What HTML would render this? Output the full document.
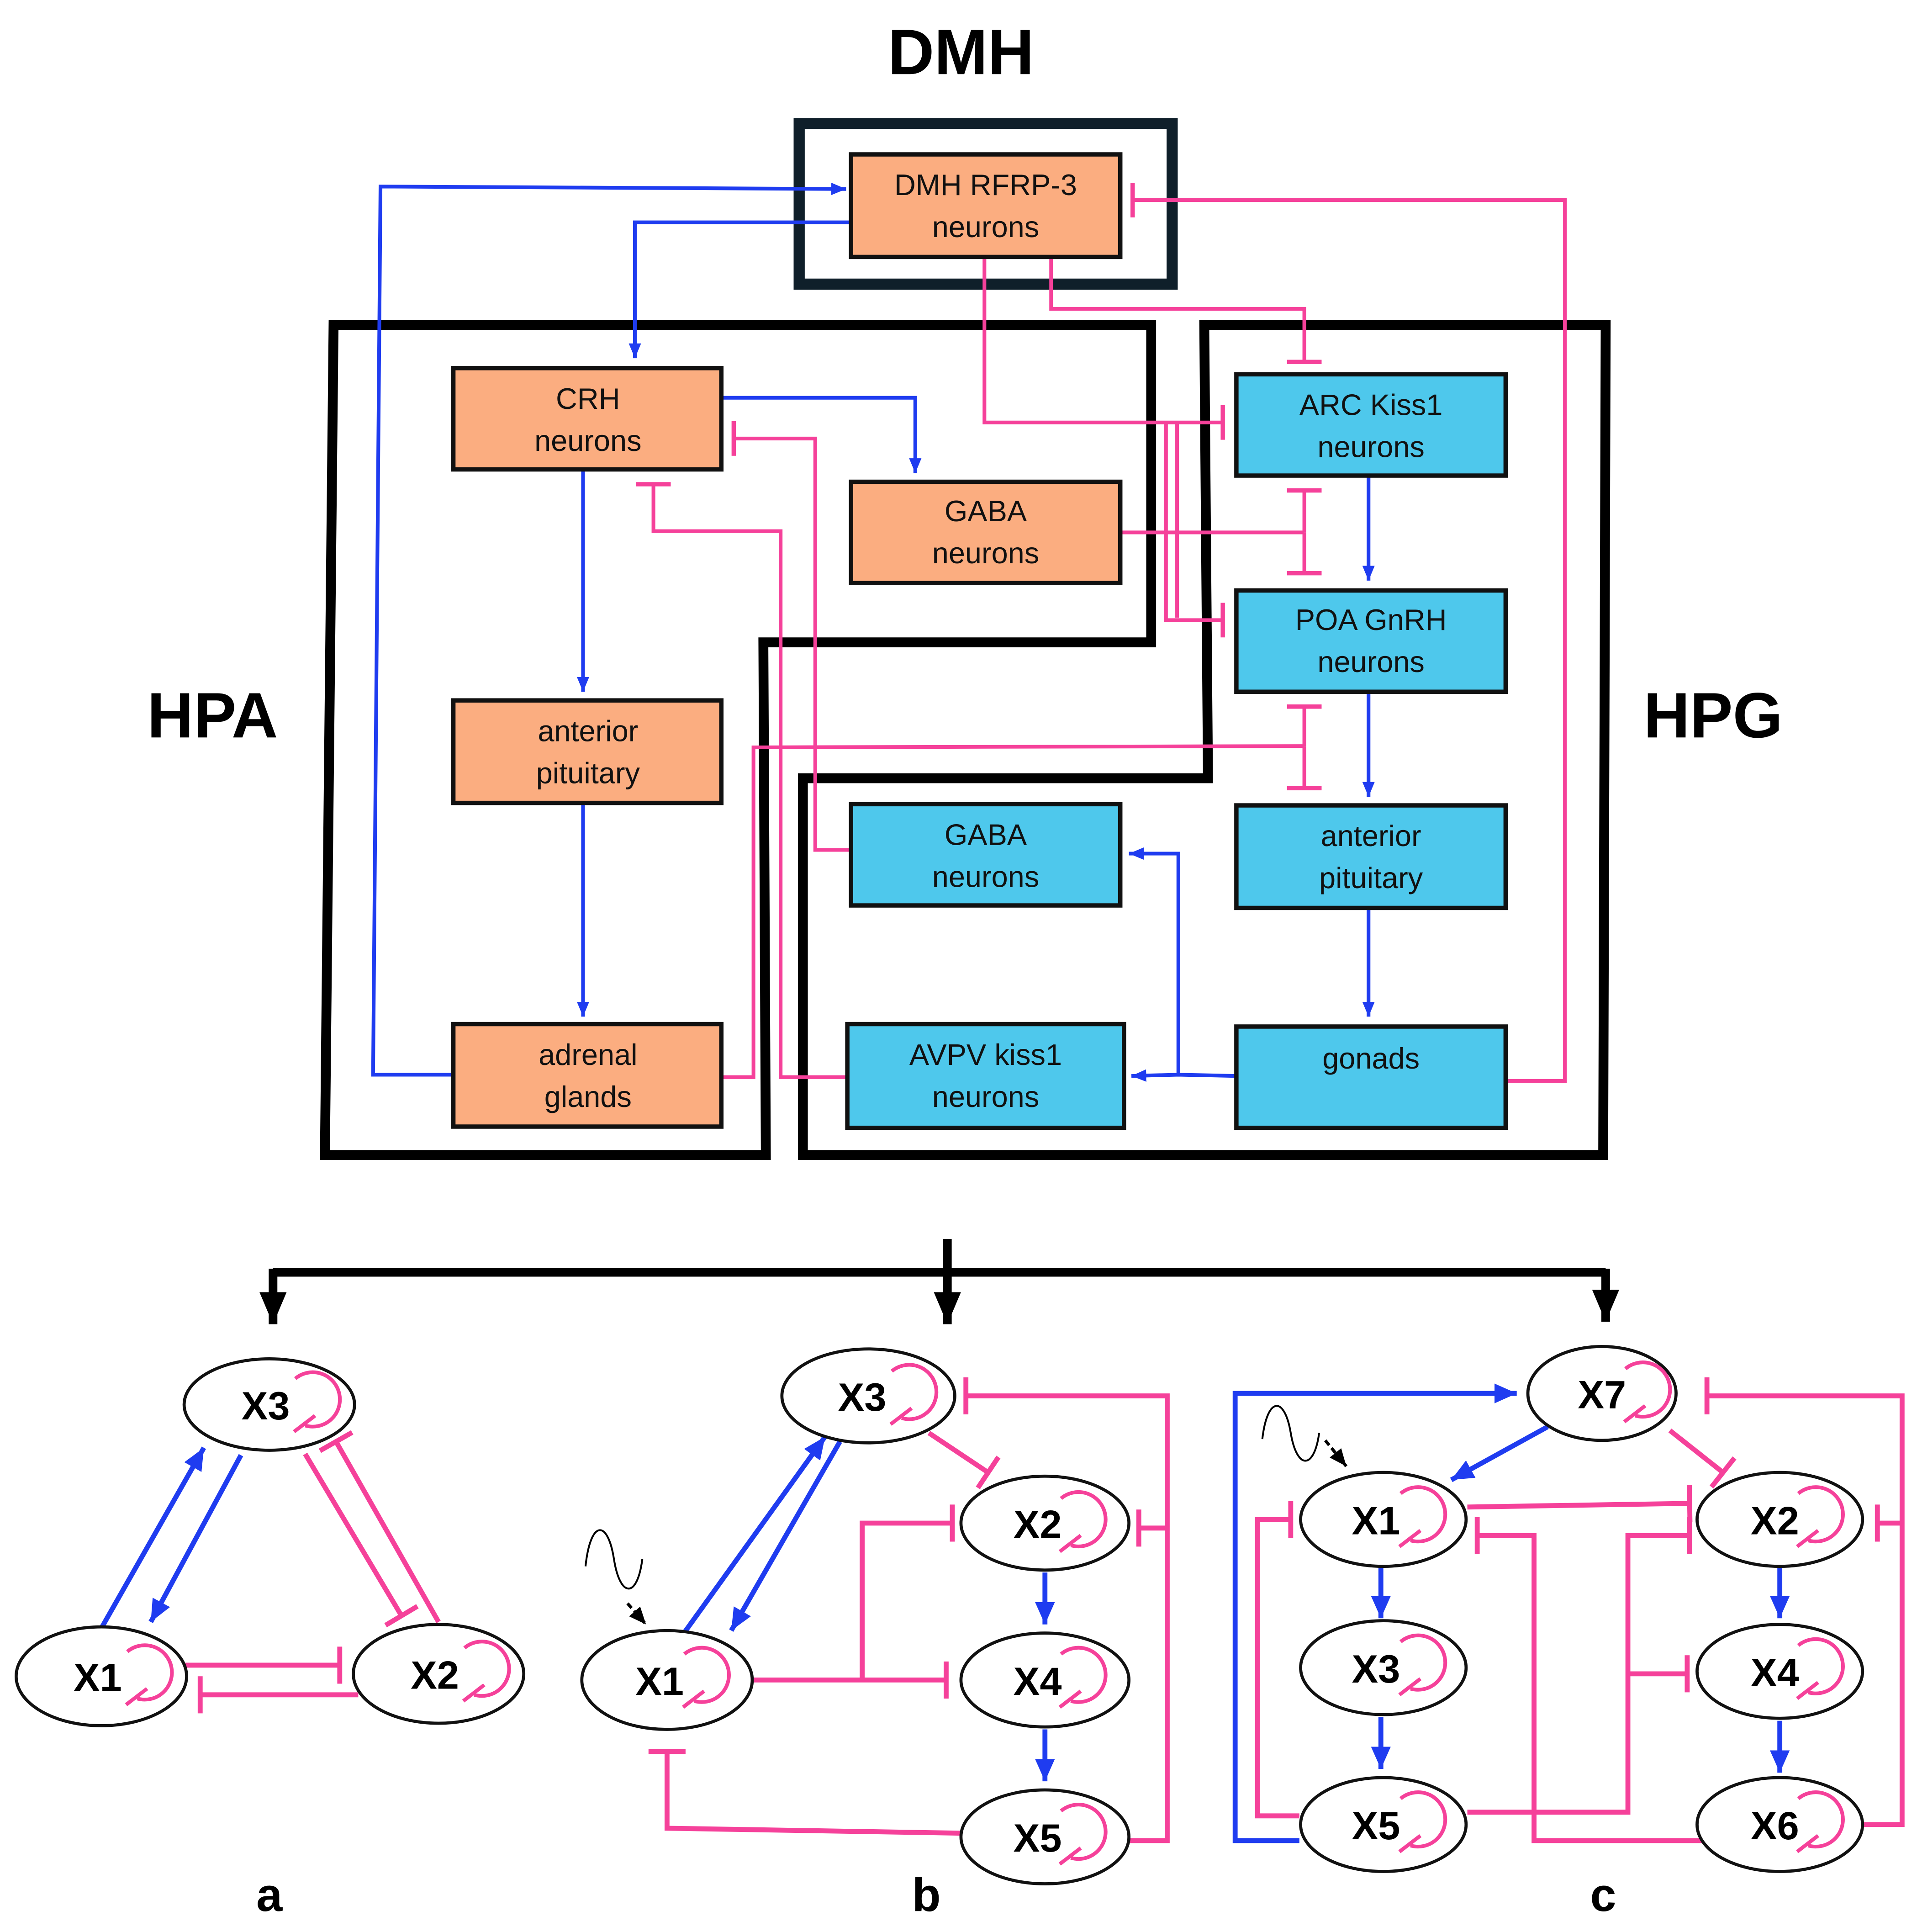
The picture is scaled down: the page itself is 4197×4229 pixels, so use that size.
<!DOCTYPE html>
<html><head><meta charset="utf-8"><style>
html,body{margin:0;padding:0;background:#fff;}
svg{display:block;}
text{font-family:"Liberation Sans",sans-serif;}
</style></head><body>
<svg width="4197" height="4229" viewBox="0 0 1552 1564" xmlns="http://www.w3.org/2000/svg">
<defs>
<marker id="ab" markerUnits="userSpaceOnUse" markerWidth="12" markerHeight="12" viewBox="0 -6 12 12" refX="12" refY="0" orient="auto"><path d="M0 -5 L12 0 L0 5 z" fill="#1f3cf0"/></marker>
<marker id="abb" markerUnits="userSpaceOnUse" markerWidth="18" markerHeight="18" viewBox="0 -9 18 18" refX="18" refY="0" orient="auto"><path d="M0 -8 L18 0 L0 8 z" fill="#1f3cf0"/></marker>
<marker id="ak" markerUnits="userSpaceOnUse" markerWidth="26" markerHeight="26" viewBox="0 -13 26 26" refX="26" refY="0" orient="auto"><path d="M0 -11 L26 0 L0 11 z" fill="#000"/></marker>
<marker id="ak2" markerUnits="userSpaceOnUse" markerWidth="14" markerHeight="14" viewBox="0 -7 14 14" refX="14" refY="0" orient="auto"><path d="M0 -6 L14 0 L0 6 z" fill="#000"/></marker>
<marker id="t" markerUnits="userSpaceOnUse" markerWidth="10" markerHeight="34" viewBox="-5 -17 10 34" refX="0" refY="0" orient="auto"><path d="M0 -14 V14" stroke="#f5419a" stroke-width="3.5"/></marker>
<marker id="tb" markerUnits="userSpaceOnUse" markerWidth="10" markerHeight="36" viewBox="-5 -18 10 36" refX="0" refY="0" orient="auto"><path d="M0 -15 V15" stroke="#f5419a" stroke-width="4"/></marker>
<g id="loop" fill="none" stroke="#f5419a" stroke-width="3"><path d="M-18 -21 A22 22 0 1 1 -10 17"/><path d="M-19 22 L-2 9"/></g>
</defs>

<g font-weight="bold" font-size="52" text-anchor="middle">
<text x="778" y="60">DMH</text>
<text x="172" y="597">HPA</text>
<text x="1387" y="597">HPG</text>
</g>

<rect x="647" y="100" width="302" height="130" fill="none" stroke="#0f1f2a" stroke-width="9"/>
<path d="M270 263 L932 263 L932 520 L618 520 L620 935 L263 935 Z" fill="none" stroke="#000" stroke-width="8"/>
<path d="M975 263 L1300 263 L1298 935 L650 935 L650 630 L978 630 Z" fill="none" stroke="#000" stroke-width="8"/>

<g fill="none" stroke="#1f3cf0" stroke-width="3" marker-end="url(#ab)">
<path d="M367 870 L302 870 L308 151 L685 153"/>
<path d="M689 180 L514 180 L514 290"/>
<path d="M584 322 L741 322 L741 383"/>
<path d="M472 380 L472 560"/>
<path d="M472 650 L472 823"/>
<path d="M1108 385 L1108 470"/>
<path d="M1108 560 L1108 645"/>
<path d="M1108 735 L1108 823"/>
<path d="M1001 871 L954 870 L916 871"/>
<path d="M954 870 L954 691 L914 691"/>
</g>
<g fill="none" stroke="#f5419a" stroke-width="3">
<path d="M1219 875 L1267 875 L1267 162 L917 162" marker-end="url(#t)"/>
<path d="M851 208 L851 250 L1056 250 L1056 293" marker-end="url(#t)"/>
<path d="M797 208 L797 342 L990 342" marker-end="url(#t)"/>
<path d="M944 342 L944 502 L990 502" marker-end="url(#t)"/>
<path d="M953 342 L953 500"/>
<path d="M907 431 L1056 431"/>
<path d="M1056 431 L1056 397" marker-end="url(#t)"/>
<path d="M1056 431 L1056 464" marker-end="url(#t)"/>
<path d="M584 872 L610 872 L610 605 L1056 604"/>
<path d="M1056 604 L1056 572" marker-end="url(#t)"/>
<path d="M1056 604 L1056 638" marker-end="url(#t)"/>
<path d="M686 872 L632 872 L632 430 L529 430 L529 392" marker-end="url(#t)"/>
<path d="M689 688 L660 688 L660 355 L594 355" marker-end="url(#t)"/>
</g>

<g stroke="#111" stroke-width="3.5">
<rect x="689" y="125" width="218" height="83" fill="#fbad80"/>
<rect x="367" y="298" width="217" height="82" fill="#fbad80"/>
<rect x="689" y="390" width="218" height="82" fill="#fbad80"/>
<rect x="367" y="567" width="217" height="83" fill="#fbad80"/>
<rect x="367" y="829" width="217" height="83" fill="#fbad80"/>
<rect x="1001" y="303" width="218" height="82" fill="#4ec8ec"/>
<rect x="1001" y="478" width="218" height="82" fill="#4ec8ec"/>
<rect x="1001" y="652" width="218" height="83" fill="#4ec8ec"/>
<rect x="689" y="651" width="218" height="82" fill="#4ec8ec"/>
<rect x="686" y="829" width="224" height="84" fill="#4ec8ec"/>
<rect x="1001" y="831" width="218" height="82" fill="#4ec8ec"/>
</g>
<g font-size="24" text-anchor="middle" fill="#111">
<text x="798" y="158">DMH RFRP-3</text><text x="798" y="192">neurons</text>
<text x="476" y="331">CRH</text><text x="476" y="365">neurons</text>
<text x="798" y="422">GABA</text><text x="798" y="456">neurons</text>
<text x="476" y="600">anterior</text><text x="476" y="634">pituitary</text>
<text x="476" y="862">adrenal</text><text x="476" y="896">glands</text>
<text x="1110" y="336">ARC Kiss1</text><text x="1110" y="370">neurons</text>
<text x="1110" y="510">POA GnRH</text><text x="1110" y="544">neurons</text>
<text x="1110" y="685">anterior</text><text x="1110" y="719">pituitary</text>
<text x="798" y="684">GABA</text><text x="798" y="718">neurons</text>
<text x="798" y="862">AVPV kiss1</text><text x="798" y="896">neurons</text>
<text x="1110" y="865">gonads</text>
</g>

<g fill="none" stroke="#000" stroke-width="7">
<path d="M767 1003 L767 1030"/>
<path d="M221 1030 L1300 1030"/>
<path d="M221 1027 L221 1072" marker-end="url(#ak)"/>
<path d="M767 1027 L767 1072" marker-end="url(#ak)"/>
<path d="M1300 1027 L1300 1070" marker-end="url(#ak)"/>
</g>

<g fill="none" stroke-width="4">
<path d="M82 1318 L165 1172" stroke="#1f3cf0" marker-end="url(#abb)"/>
<path d="M195 1178 L122 1313" stroke="#1f3cf0" marker-end="url(#abb)"/>
<path d="M247 1177 L325 1308" stroke="#f5419a" marker-end="url(#tb)"/>
<path d="M355 1313 L272 1167" stroke="#f5419a" marker-end="url(#tb)"/>
<path d="M150 1348 L275 1348" stroke="#f5419a" marker-end="url(#tb)"/>
<path d="M290 1372 L162 1372" stroke="#f5419a" marker-end="url(#tb)"/>
</g>
<g fill="none" stroke-width="4">
<path d="M553 1323 L668 1163" stroke="#1f3cf0" marker-end="url(#abb)"/>
<path d="M680 1167 L592 1320" stroke="#1f3cf0" marker-end="url(#abb)"/>
<path d="M752 1160 L800 1192" stroke="#f5419a" marker-end="url(#tb)"/>
<path d="M914 1490 L945 1490 L945 1130 L782 1130" stroke="#f5419a" marker-end="url(#tb)"/>
<path d="M945 1237 L922 1237" stroke="#f5419a" marker-end="url(#tb)"/>
<path d="M608 1360 L766 1360" stroke="#f5419a" marker-end="url(#tb)"/>
<path d="M698 1360 L698 1233 L771 1233" stroke="#f5419a" marker-end="url(#tb)"/>
<path d="M778 1484 L540 1480 L540 1418" stroke="#f5419a" marker-end="url(#tb)"/>
<path d="M846 1273 L846 1315" stroke="#1f3cf0" marker-end="url(#abb)"/>
<path d="M846 1400 L846 1442" stroke="#1f3cf0" marker-end="url(#abb)"/>
</g>
<g fill="none" stroke-width="4">
<path d="M1052 1490 L1000 1490 L1000 1128 L1228 1128" stroke="#1f3cf0" marker-end="url(#abb)"/>
<path d="M1253 1155 L1175 1198" stroke="#1f3cf0" marker-end="url(#abb)"/>
<path d="M1118 1268 L1118 1310" stroke="#1f3cf0" marker-end="url(#abb)"/>
<path d="M1118 1390 L1118 1432" stroke="#1f3cf0" marker-end="url(#abb)"/>
<path d="M1441 1268 L1441 1310" stroke="#1f3cf0" marker-end="url(#abb)"/>
<path d="M1441 1393 L1441 1435" stroke="#1f3cf0" marker-end="url(#abb)"/>
<path d="M1352 1158 L1395 1192" stroke="#f5419a" marker-end="url(#tb)"/>
<path d="M1508 1477 L1540 1477 L1540 1130 L1382 1130" stroke="#f5419a" marker-end="url(#tb)"/>
<path d="M1540 1233 L1520 1233" stroke="#f5419a" marker-end="url(#tb)"/>
<path d="M1188 1220 L1368 1217" stroke="#f5419a" marker-end="url(#tb)"/>
<path d="M1052 1470 L1018 1470 L1018 1230 L1045 1230" stroke="#f5419a" marker-end="url(#tb)"/>
<path d="M1378 1490 L1242 1490 L1242 1243 L1196 1243" stroke="#f5419a" marker-end="url(#tb)"/>
<path d="M1188 1467 L1318 1467 L1318 1243 L1368 1243" stroke="#f5419a" marker-end="url(#tb)"/>
<path d="M1318 1355 L1366 1355" stroke="#f5419a" marker-end="url(#tb)"/>
</g>

<g fill="none" stroke="#000" stroke-width="1.5">
<path d="M474 1268 C478 1230 492 1230 497 1262 C502 1294 516 1294 520 1262"/>
<path d="M1022 1165 C1026 1130 1040 1130 1045 1160 C1050 1190 1064 1190 1068 1160"/>
</g>
<path d="M508 1298 L523 1315" stroke="#000" stroke-width="2.5" stroke-dasharray="5 3" marker-end="url(#ak2)"/>
<path d="M1073 1166 L1090 1187" stroke="#000" stroke-width="2.5" stroke-dasharray="5 3" marker-end="url(#ak2)"/>

<g fill="#fff" stroke="#111" stroke-width="2.5">
<ellipse cx="218" cy="1137" rx="69" ry="37"/>
<ellipse cx="82" cy="1357" rx="69" ry="40"/>
<ellipse cx="355" cy="1355" rx="69" ry="40"/>
<ellipse cx="703" cy="1130" rx="70" ry="38"/>
<ellipse cx="846" cy="1233" rx="68" ry="38"/>
<ellipse cx="540" cy="1360" rx="69" ry="40"/>
<ellipse cx="846" cy="1360" rx="68" ry="38"/>
<ellipse cx="846" cy="1487" rx="68" ry="38"/>
<ellipse cx="1297" cy="1128" rx="60" ry="38"/>
<ellipse cx="1120" cy="1230" rx="67" ry="38"/>
<ellipse cx="1441" cy="1230" rx="67" ry="38"/>
<ellipse cx="1120" cy="1350" rx="67" ry="38"/>
<ellipse cx="1441" cy="1353" rx="67" ry="38"/>
<ellipse cx="1120" cy="1477" rx="67" ry="38"/>
<ellipse cx="1441" cy="1477" rx="67" ry="38"/>
</g>
<g font-size="32" font-weight="bold" text-anchor="middle" fill="#000">
<text x="215" y="1149">X3</text>
<text x="79" y="1369">X1</text>
<text x="352" y="1367">X2</text>
<text x="698" y="1142">X3</text>
<text x="840" y="1245">X2</text>
<text x="534" y="1372">X1</text>
<text x="840" y="1372">X4</text>
<text x="840" y="1499">X5</text>
<text x="1297" y="1140">X7</text>
<text x="1114" y="1242">X1</text>
<text x="1437" y="1242">X2</text>
<text x="1114" y="1362">X3</text>
<text x="1437" y="1365">X4</text>
<text x="1114" y="1489">X5</text>
<text x="1437" y="1489">X6</text>
</g>
<use href="#loop" x="257" y="1137"/>
<use href="#loop" x="121" y="1358"/>
<use href="#loop" x="394" y="1355"/>
<use href="#loop" x="740" y="1131"/>
<use href="#loop" x="877" y="1234"/>
<use href="#loop" x="572" y="1360"/>
<use href="#loop" x="877" y="1360"/>
<use href="#loop" x="877" y="1487"/>
<use href="#loop" x="1334" y="1129"/>
<use href="#loop" x="1152" y="1230"/>
<use href="#loop" x="1474" y="1230"/>
<use href="#loop" x="1152" y="1350"/>
<use href="#loop" x="1474" y="1353"/>
<use href="#loop" x="1152" y="1477"/>
<use href="#loop" x="1474" y="1477"/>

<g font-size="38" font-weight="bold" text-anchor="middle">
<text x="218" y="1547">a</text>
<text x="750" y="1547">b</text>
<text x="1298" y="1547">c</text>
</g>
</svg>
</body></html>
